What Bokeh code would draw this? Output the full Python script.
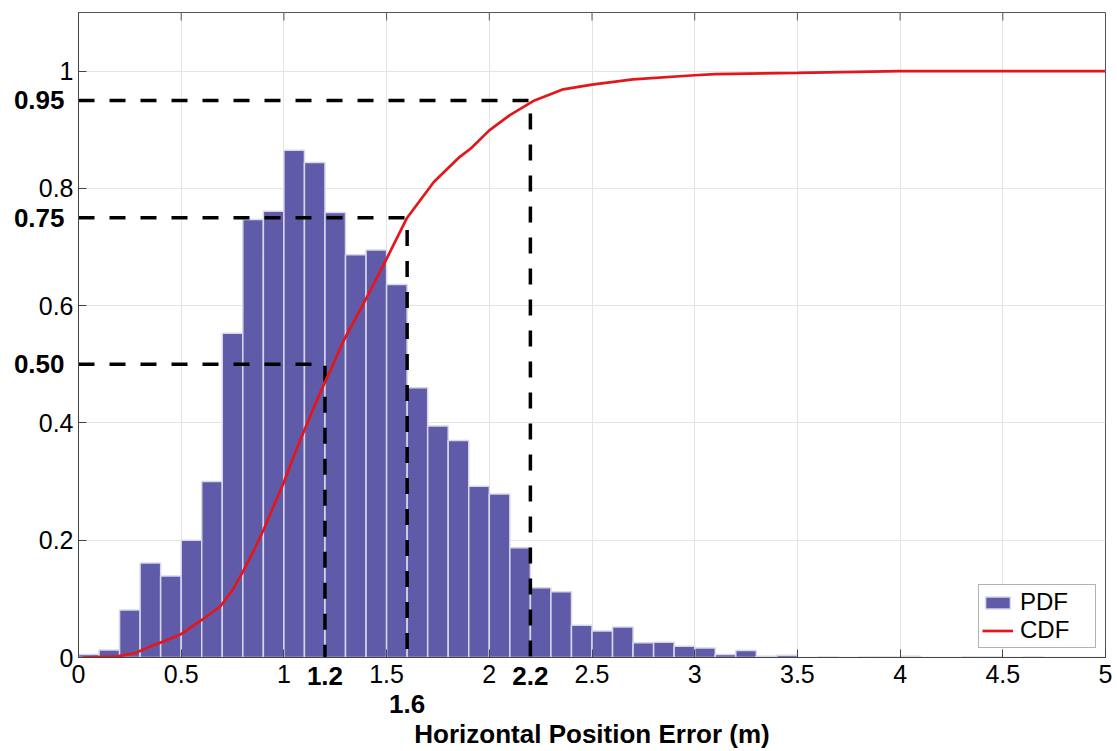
import numpy as np
from bokeh.plotting import figure
from bokeh.models import Range1d, FixedTicker
from bokeh.core.properties import value
from bokeh.embed import file_html
from bokeh.resources import INLINE

# Histogram of horizontal position error, 0.1 m bins from 0 to 5 m
bin_width = 0.1
pdf_values = [
    0.005, 0.013, 0.081, 0.161, 0.139, 0.200, 0.300, 0.553, 0.747, 0.761,
    0.865, 0.844, 0.759, 0.687, 0.695, 0.636, 0.460, 0.395, 0.370, 0.292,
    0.279, 0.187, 0.119, 0.112, 0.055, 0.045, 0.052, 0.025, 0.026, 0.019,
    0.016, 0.005, 0.012, 0.002, 0.004, 0.000, 0.001, 0.000, 0.001, 0.001,
    0.002, 0.000, 0.000, 0.001, 0.001, 0.000, 0.001, 0.000, 0.000, 0.000,
]
bin_centers = (np.arange(len(pdf_values)) + 0.5) * bin_width

# Empirical cumulative distribution
cdf_x = [0.02, 0.19, 0.28, 0.35, 0.42, 0.50, 0.60, 0.69, 0.75, 0.80,
         0.85, 0.90, 0.95, 1.00, 1.05, 1.10, 1.15, 1.20, 1.24, 1.29,
         1.39, 1.50, 1.60, 1.73, 1.85, 1.91, 2.00, 2.10, 2.22, 2.36,
         2.50, 2.70, 3.00, 3.10, 3.50, 4.00, 5.00]
cdf_y = [0.000, 0.002, 0.008, 0.019, 0.028, 0.040, 0.064, 0.087, 0.115, 0.146,
         0.180, 0.217, 0.258, 0.299, 0.345, 0.388, 0.430, 0.470, 0.500, 0.540,
         0.605, 0.680, 0.750, 0.811, 0.852, 0.868, 0.899, 0.925, 0.950, 0.969,
         0.977, 0.986, 0.993, 0.995, 0.997, 1.000, 1.000]

# Percentile markers: probability level and the error reached at that level
marker_prob = [0.50, 0.75, 0.95]
marker_prob_labels = ["0.50", "0.75", "0.95"]
marker_err = [1.2, 1.6, 2.2]
marker_err_labels = ["1.2", "1.6", "2.2"]

x_ticks = [0, 0.5, 1, 1.5, 2, 2.5, 3, 3.5, 4, 4.5, 5]
x_tick_labels = ["0", "0.5", "1", "1.5", "2", "2.5", "3", "3.5", "4", "4.5", "5"]
y_ticks = [0, 0.2, 0.4, 0.6, 0.8, 1.0]
y_tick_labels = ["0", "0.2", "0.4", "0.6", "0.8", "1"]
x_title = "Horizontal Position Error (m)"

X_MAX = 5.0
Y_MAX = 1.1
FONT = "Liberation Sans"
BAR_COLOR = "#5F5BA8"
CDF_COLOR = "#E3171B"
FRAME_COLOR = "#555555"

p = figure(width=1117, height=751,
           x_range=Range1d(0, X_MAX), y_range=Range1d(0, Y_MAX),
           output_backend="svg", toolbar_location=None,
           min_border_left=78, min_border_right=12,
           min_border_top=12, min_border_bottom=94)
p.background_fill_color = "white"
p.border_fill_color = "white"
p.outline_line_color = FRAME_COLOR
p.outline_line_width = 1

# Axes
xa = p.xaxis[0]
xa.ticker = FixedTicker(ticks=x_ticks)
xa.major_label_overrides = {t: s for t, s in zip(x_ticks, x_tick_labels)}
ya = p.yaxis[0]
ya.ticker = FixedTicker(ticks=y_ticks)
ya.major_label_overrides = {t: s for t, s in zip(y_ticks, y_tick_labels)}
for ax in (xa, ya):
    ax.major_label_text_font = FONT
    ax.major_label_text_font_size = "25px"
    ax.major_label_text_color = "black"
    ax.major_tick_in = 8
    ax.major_tick_out = 0
    ax.minor_tick_line_color = None
    ax.axis_line_color = "#444444"
    ax.major_tick_line_color = "#444444"
xa.major_label_standoff = 7
ya.major_label_standoff = 5

p.xgrid.grid_line_color = "#E4E4E4"
p.ygrid.grid_line_color = "#E4E4E4"
p.xgrid.grid_line_width = 1
p.ygrid.grid_line_width = 1

# Inward tick marks along the top edge of the box
p.ray(x=x_ticks, y=[Y_MAX] * len(x_ticks), length=8, length_units="screen",
      angle=-np.pi / 2, line_color=FRAME_COLOR, line_width=1)

# Histogram bars (PDF)
p.vbar(x=bin_centers, top=pdf_values, width=bin_width,
       fill_color=BAR_COLOR, line_color="#D9D8EA", line_width=1.5,
       legend_label="PDF")

# Percentile guide lines
for prob, err in zip(marker_prob, marker_err):
    p.line([0, err, err], [prob, prob, 0], line_color="black",
           line_width=3.5, line_dash="16 15")

# CDF curve
p.line(cdf_x, cdf_y, line_color=CDF_COLOR, line_width=2.7, legend_label="CDF")

# Bold tick-style labels for the percentile markers (drawn outside the frame)
bold_style = dict(text_font=value(FONT), text_font_style="bold",
                  text_font_size="26px", text_color="black",
                  text_baseline="middle")
r_prob = p.text(x=[0] * len(marker_prob), y=marker_prob, text=marker_prob_labels,
                x_offset=-14, text_align="right", **bold_style)
r_prob.level = "overlay"
row_drop = [18 if lab != "1.6" else 46 for lab in marker_err_labels]
r_err = p.text(x=marker_err, y=[0] * len(marker_err), text=marker_err_labels,
               y_offset=row_drop, text_align="center", **bold_style)
r_err.level = "overlay"

# X axis title, centred under the frame
r_title = p.text(x=[X_MAX / 2], y=[0], text=[x_title], y_offset=76,
                 text_align="center", text_baseline="middle",
                 text_font=value(FONT), text_font_style="bold",
                 text_font_size="26px", text_color="black")
r_title.level = "overlay"

# Legend
lg = p.legend[0]
lg.location = "bottom_right"
lg.margin = 9
lg.padding = 3
lg.spacing = 0
lg.label_text_font = FONT
lg.label_text_font_size = "24px"
lg.label_text_color = "black"
lg.label_standoff = 7
lg.label_height = 25
lg.label_width = 72
lg.glyph_width = 31
lg.glyph_height = 15
lg.border_line_color = "#666666"
lg.border_line_width = 1
lg.background_fill_alpha = 1.0

open("out.html", "w").write(file_html(p, INLINE))
